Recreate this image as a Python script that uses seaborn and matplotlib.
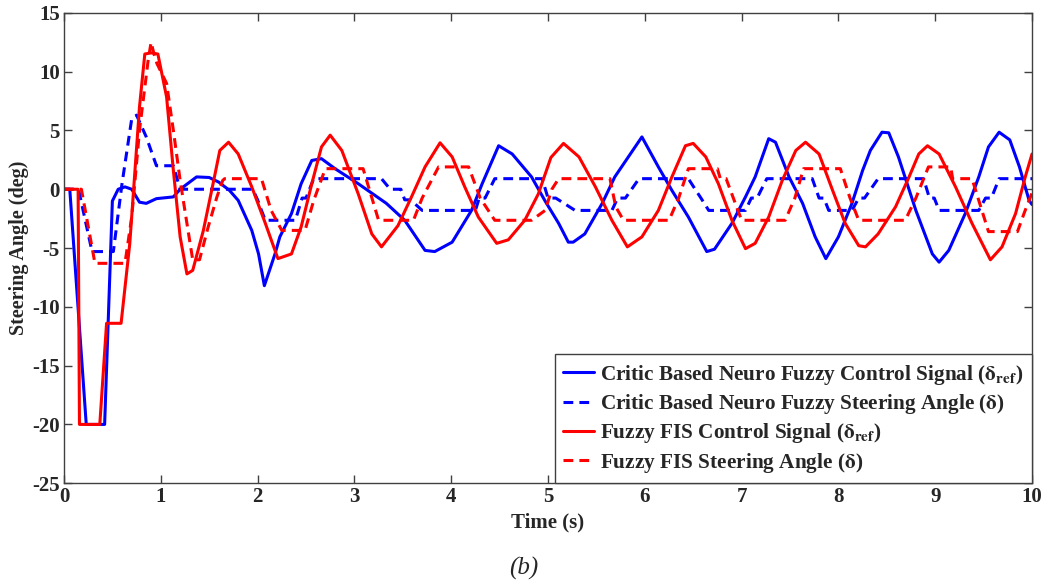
import numpy as np
import pandas as pd
import matplotlib
matplotlib.use("Agg")
import matplotlib.pyplot as plt
import seaborn as sns

# ---------------- data ----------------
# Critic Based Neuro Fuzzy Control Signal
cbnf_ctrl_t = [0, 0.06, 0.23, 0.42, 0.50, 0.56, 0.63, 0.70, 0.78, 0.85, 0.955, 1.13, 1.20, 1.37, 1.50,
               1.60, 1.71, 1.80, 1.94, 2.01, 2.07, 2.18, 2.23, 2.35, 2.45, 2.56, 2.66, 2.80, 3.04, 3.33,
               3.52, 3.73, 3.83, 4.01, 4.21, 4.32, 4.49, 4.63, 4.83, 4.97, 5.11, 5.21, 5.26, 5.38, 5.56,
               5.69, 5.83, 5.97, 6.14, 6.28, 6.45, 6.64, 6.72, 6.90, 7.04, 7.14, 7.28, 7.35, 7.49, 7.63,
               7.76, 7.87, 8.00, 8.14, 8.25, 8.33, 8.45, 8.52, 8.62, 8.80, 8.97, 9.04, 9.14, 9.31, 9.45,
               9.55, 9.66, 9.77, 9.87, 9.97, 10.0]
cbnf_ctrl_v = [0, 0, -20, -20, -1.0, 0.0, 0.2, 0.0, -1.1, -1.2, -0.8, -0.65, 0.0, 1.05, 1.0,
               0.6, -0.1, -0.95, -3.5, -5.5, -8.2, -5.5, -4.05, -2.07, 0.47, 2.45, 2.6, 1.75, 0.47, -1.2,
               -2.64, -5.2, -5.3, -4.5, -1.8, 0.47, 3.7, 3.0, 1.05, -1.0, -2.9, -4.5, -4.5, -3.8, -1.2,
               1.05, 2.75, 4.45, 1.9, -0.1, -2.36, -5.3, -5.1, -2.9, -0.65, 1.05, 4.3, 4.0, 1.05, -1.2,
               -4.05, -5.9, -4.05, -1.2, 1.6, 3.3, 4.85, 4.8, 2.75, -1.8, -5.5, -6.2, -5.2, -2.07, 1.05,
               3.6, 4.85, 4.2, 1.9, -0.95, -1.3]

# Critic Based Neuro Fuzzy Steering Angle
cbnf_steer_t = [0, 0.15, 0.29, 0.51, 0.60, 0.70, 0.75, 0.85, 0.955, 1.13, 1.20, 1.95, 2.00, 2.04, 2.08,
                2.39, 2.46, 2.50, 2.58, 3.28, 3.37, 3.48, 3.52, 3.58, 3.70, 4.25, 4.29, 4.35, 4.45, 4.94,
                5.00, 5.08, 5.28, 5.66, 5.72, 5.80, 5.94, 6.45, 6.52, 6.58, 6.66, 7.04, 7.10, 7.16, 7.26,
                7.73, 7.80, 7.85, 7.90, 8.14, 8.21, 8.27, 8.41, 8.88, 8.94, 8.99, 9.04, 9.45, 9.52, 9.58,
                9.66, 10.0]
cbnf_steer_v = [0, 0, -5.3, -5.3, 0.5, 6.0, 6.3, 4.45, 2.0, 2.0, 0, 0, -0.9, -1.8, -2.64,
                -2.64, -0.75, -0.75, 0.9, 0.9, 0, 0, -0.9, -0.9, -1.8, -1.8, -0.75, -0.75, 0.9, 0.9,
                -0.75, -0.75, -1.8, -1.8, -0.75, -0.75, 0.9, 0.9, 0, -0.75, -1.8, -1.8, -0.75, -0.75, 0.9,
                0.9, -0.75, -0.75, -1.8, -1.8, -0.75, -0.75, 0.9, 0.9, -0.75, -0.75, -1.8, -1.8, -0.75, -0.75,
                0.9, 0.9]

# Fuzzy FIS Control Signal
fis_ctrl_t = [0, 0.146, 0.16, 0.37, 0.44, 0.59, 0.68, 0.78, 0.835, 0.90, 0.97, 1.06, 1.13, 1.20, 1.27,
              1.33, 1.44, 1.54, 1.61, 1.70, 1.80, 1.94, 2.08, 2.21, 2.35, 2.45, 2.56, 2.66, 2.75, 2.87,
              3.04, 3.18, 3.28, 3.45, 3.59, 3.73, 3.885, 4.01, 4.14, 4.28, 4.47, 4.59, 4.76, 4.90, 5.03,
              5.16, 5.32, 5.49, 5.66, 5.82, 5.97, 6.14, 6.28, 6.42, 6.50, 6.63, 6.76, 6.90, 7.04, 7.14,
              7.28, 7.42, 7.56, 7.66, 7.80, 7.94, 8.07, 8.21, 8.28, 8.41, 8.59, 8.73, 8.83, 8.92, 9.04,
              9.21, 9.38, 9.57, 9.69, 9.83, 9.93, 10.0]
fis_ctrl_v = [0, 0, -20, -20, -11.4, -11.4, -4.6, 7.0, 11.5, 11.6, 11.5, 7.85, 1.6, -4.05, -7.2,
              -6.9, -3.5, 0.47, 3.3, 4.0, 3.0, 0.2, -2.9, -5.9, -5.5, -3.2, 0.47, 3.6, 4.6, 3.3,
              -0.4, -3.8, -4.9, -3.1, -0.65, 1.9, 3.95, 2.75, 0.2, -2.36, -4.6, -4.3, -2.64, -0.4, 2.7,
              3.9, 2.75, 0.2, -2.64, -4.9, -4.05, -1.8, 1.05, 3.7, 3.9, 2.75, 0.47, -2.64, -5.05, -4.6,
              -2.36, 0.75, 3.3, 4.0, 3.0, -0.1, -2.9, -4.8, -4.9, -3.8, -1.5, 1.05, 3.0, 3.7, 3.0,
              0.2, -2.9, -6.0, -4.9, -2.07, 1.05, 3.0]

# Fuzzy FIS Steering Angle
fis_steer_t = [0, 0.18, 0.32, 0.63, 0.70, 0.78, 0.87, 0.90, 0.93, 0.96, 1.06, 1.13, 1.20, 1.27, 1.33,
               1.40, 1.49, 1.58, 1.64, 1.66, 2.04, 2.14, 2.25, 2.49, 2.58, 2.70, 3.09, 3.25, 3.61, 3.70,
               3.87, 4.18, 4.30, 4.45, 4.83, 4.97, 5.04, 5.11, 5.64, 5.70, 5.78, 6.25, 6.35, 6.45, 6.75,
               6.78, 6.84, 7.00, 7.45, 7.55, 7.64, 8.02, 8.12, 8.21, 8.69, 8.80, 8.93, 9.16, 9.18, 9.38,
               9.55, 9.85, 9.92, 10.0]
fis_steer_v = [0, 0, -6.3, -6.3, -2.36, 5.0, 11.0, 12.5, 11.5, 10.7, 9.0, 5.0, 0.75, -2.9, -6.0,
               -6.0, -3.2, -0.65, 0.75, 0.9, 0.9, -1.8, -3.5, -3.5, -0.95, 1.75, 1.75, -2.64, -2.64, -0.75,
               1.9, 1.9, -0.75, -2.64, -2.64, -1.8, 0, 0.9, 0.9, -1.5, -2.64, -2.64, -0.75, 1.75, 1.75,
               0.9, 0.9, -2.64, -2.64, -0.75, 1.75, 1.75, -0.75, -2.64, -2.64, -0.75, 1.9, 1.9, 0.9, 0.9,
               -3.6, -3.6, -2.0, -0.3]

labels = [
    r"Critic Based Neuro Fuzzy Control Signal ($\mathbf{\delta}_{\mathbf{ref}}$)",
    r"Critic Based Neuro Fuzzy Steering Angle ($\mathbf{\delta}$)",
    r"Fuzzy FIS Control Signal ($\mathbf{\delta}_{\mathbf{ref}}$)",
    r"Fuzzy FIS Steering Angle ($\mathbf{\delta}$)",
]
x_ticks = [0, 1, 2, 3, 4, 5, 6, 7, 8, 9, 10]
y_ticks = [-25, -20, -15, -10, -5, 0, 5, 10, 15]

# ---------------- styling ----------------
sns.set_theme(style="white")
plt.rcParams["font.family"] = ["Liberation Serif", "DejaVu Serif"]
plt.rcParams["mathtext.fontset"] = "stix"
plt.rcParams["font.weight"] = "bold"

fig = plt.figure(figsize=(10.47, 5.85), dpi=100)
ax = fig.add_axes([0.0611, 0.174, 0.9246, 0.804])

series = [
    (cbnf_ctrl_t, cbnf_ctrl_v, "#0000ff", "-"),
    (cbnf_steer_t, cbnf_steer_v, "#0000ff", "--"),
    (fis_ctrl_t, fis_ctrl_v, "#ff0000", "-"),
    (fis_steer_t, fis_steer_v, "#ff0000", "--"),
]
handles = []
for (t, v, c, ls), lab in zip(series, labels):
    df = pd.DataFrame({"t": t, "v": v})
    sns.lineplot(data=df, x="t", y="v", ax=ax, color=c, linewidth=2.2,
                 sort=False, estimator=None, label=lab)
    line = ax.lines[-1]
    if ls == "--":
        line.set_dashes((3.2, 2.0))
    handles.append(line)

ax.set_xlim(0, 10)
ax.set_ylim(-25, 15)
ax.set_xticks(x_ticks)
ax.set_yticks(y_ticks)
ax.set_xticklabels([str(v) for v in x_ticks], fontsize=15, fontweight="bold")
ax.set_yticklabels([str(v) for v in y_ticks], fontsize=15, fontweight="bold")
ax.tick_params(axis="both", which="both", direction="in", length=6, width=1,
               color="#404040", top=True, right=True, bottom=True, left=True, pad=3)
for sp in ax.spines.values():
    sp.set_color("#404040")
    sp.set_linewidth(1.0)
ax.grid(False)

ax.set_xlabel("Time (s)", fontsize=15, fontweight="bold", labelpad=4)
ax.set_ylabel("Steering Angle (deg)", fontsize=14.5, fontweight="bold", labelpad=2)

leg = ax.legend(handles=handles, labels=labels, loc="lower right",
                bbox_to_anchor=(1.0, 0.0), borderaxespad=0.0, frameon=True,
                fancybox=False, framealpha=1.0, edgecolor="#404040",
                prop={"family": "Liberation Serif", "weight": "bold", "size": 15.3},
                handlelength=1.45, handletextpad=0.3, labelspacing=0.25, borderpad=0.4)
leg.get_frame().set_linewidth(1.0)

fig.text(0.5, 0.028, "(b)", ha="center", va="center", fontsize=18,
         fontstyle="italic", fontweight="normal", family="Liberation Serif")

fig.savefig("out.png", dpi=100)
